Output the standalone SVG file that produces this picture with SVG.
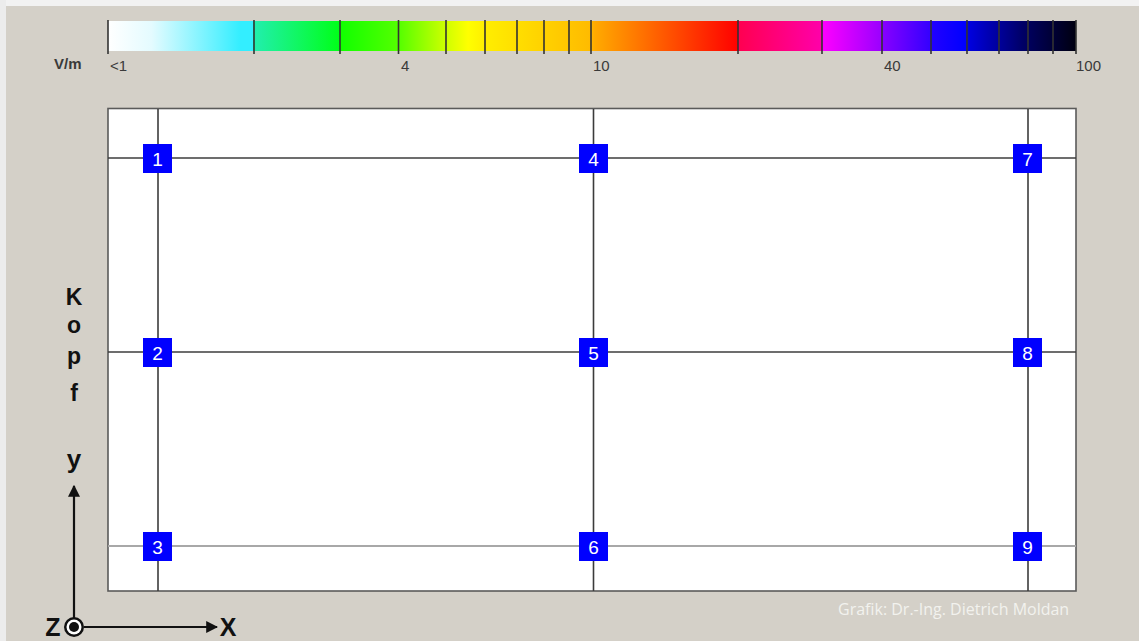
<svg xmlns="http://www.w3.org/2000/svg" width="1139" height="641" viewBox="0 0 1139 641">
<defs>
<style>
.lbl{font-family:"Liberation Sans",Arial,sans-serif;font-size:15px;fill:#3a3a3a}
.tick{stroke:#333;stroke-width:1.6}
.grid{stroke:#3c3c3c;stroke-width:1.6;fill:none}
.node rect{fill:#0000ff}
.node text{font-family:"Liberation Sans",Arial,sans-serif;font-size:19px;fill:#ffffff;text-anchor:middle}
.big{font-family:"Liberation Sans",Arial,sans-serif;font-weight:bold;fill:#111;text-anchor:middle}
</style>
<linearGradient id="cb" gradientUnits="userSpaceOnUse" x1="108" y1="0" x2="1076" y2="0">
<stop offset="0" stop-color="#ffffff"/>
<stop offset="0.045" stop-color="#e4fbff"/>
<stop offset="0.137" stop-color="#33eeff"/>
<stop offset="0.1498" stop-color="#33eeff"/>
<stop offset="0.1498" stop-color="#22eeb0"/>
<stop offset="0.2397" stop-color="#00ff18"/>
<stop offset="0.2397" stop-color="#10ff00"/>
<stop offset="0.3006" stop-color="#55ff00"/>
<stop offset="0.3481" stop-color="#ccff00"/>
<stop offset="0.372" stop-color="#ffff00"/>
<stop offset="0.3895" stop-color="#ffee00"/>
<stop offset="0.498" stop-color="#ffbb00"/>
<stop offset="0.503" stop-color="#ffaa00"/>
<stop offset="0.63" stop-color="#ff1800"/>
<stop offset="0.651" stop-color="#ff0000"/>
<stop offset="0.651" stop-color="#ff0050"/>
<stop offset="0.7376" stop-color="#ff00aa"/>
<stop offset="0.7376" stop-color="#ff00ff"/>
<stop offset="0.7996" stop-color="#9900ff"/>
<stop offset="0.7996" stop-color="#8800ff"/>
<stop offset="0.850" stop-color="#3300ff"/>
<stop offset="0.850" stop-color="#2200ff"/>
<stop offset="0.886" stop-color="#0000ff"/>
<stop offset="0.886" stop-color="#0000e6"/>
<stop offset="0.945" stop-color="#000066"/>
<stop offset="1" stop-color="#000010"/>
</linearGradient>
<marker id="arr" viewBox="0 0 10 10" refX="9" refY="5" markerWidth="12" markerHeight="12" markerUnits="userSpaceOnUse" orient="auto">
<path d="M0,0 L10,5 L0,10 z" fill="#111"/>
</marker>
</defs>
<rect x="0" y="0" width="1139" height="641" fill="#d4d0c8"/>
<rect x="0" y="0" width="1139" height="6" fill="#f2f2f2"/>
<rect x="0" y="0" width="6" height="641" fill="#ececec"/>

<g id="colorbar">
<rect x="108" y="21" width="968" height="30" fill="url(#cb)"/>
<g class="tick">
<line x1="108" y1="20" x2="108" y2="54"/>
<line x1="254" y1="20" x2="254" y2="54"/>
<line x1="340" y1="20" x2="340" y2="54"/>
<line x1="398.5" y1="20" x2="398.5" y2="54"/>
<line x1="446" y1="20" x2="446" y2="54"/>
<line x1="485" y1="20" x2="485" y2="54"/>
<line x1="517" y1="20" x2="517" y2="54"/>
<line x1="544" y1="20" x2="544" y2="54"/>
<line x1="569" y1="20" x2="569" y2="54"/>
<line x1="591" y1="20" x2="591" y2="54"/>
<line x1="738" y1="20" x2="738" y2="54"/>
<line x1="822" y1="20" x2="822" y2="54"/>
<line x1="882" y1="20" x2="882" y2="54"/>
<line x1="931" y1="20" x2="931" y2="54"/>
<line x1="967" y1="20" x2="967" y2="54"/>
<line x1="999" y1="20" x2="999" y2="54"/>
<line x1="1028" y1="20" x2="1028" y2="54"/>
<line x1="1053" y1="20" x2="1053" y2="54"/>
<line x1="1076" y1="20" x2="1076" y2="54"/>
</g>
<text class="lbl" x="54" y="69" font-size="14" font-weight="bold" fill="#555">V/m</text>
<text class="lbl" x="110" y="71">&lt;1</text>
<text class="lbl" x="401" y="71">4</text>
<text class="lbl" x="593" y="71">10</text>
<text class="lbl" x="884" y="71">40</text>
<text class="lbl" x="1076" y="71">100</text>
</g>

<rect id="frame" x="108" y="108.5" width="968" height="482.5" fill="#ffffff" stroke="#5a5a5a" stroke-width="1.6"/>

<g id="connectors">
<line class="grid" x1="158" y1="109" x2="158" y2="591"/>
<line class="grid" x1="593.5" y1="109" x2="593.5" y2="591"/>
<line class="grid" x1="1028" y1="109" x2="1028" y2="591"/>
<line class="grid" x1="108" y1="158" x2="1076" y2="158"/>
<line class="grid" x1="108" y1="352" x2="1076" y2="352"/>
<line x1="108" y1="546" x2="1076" y2="546" stroke="#a8a8a8" stroke-width="2"/>
</g>

<g id="node1" class="node"><rect x="143" y="144" width="29" height="29"/><text x="157.5" y="165.5">1</text></g>
<g id="node2" class="node"><rect x="143" y="338" width="29" height="29"/><text x="157.5" y="359.5">2</text></g>
<g id="node3" class="node"><rect x="143" y="532" width="29" height="29"/><text x="157.5" y="553.5">3</text></g>
<g id="node4" class="node"><rect x="579" y="144" width="29" height="29"/><text x="593.5" y="165.5">4</text></g>
<g id="node5" class="node"><rect x="579" y="338" width="29" height="29"/><text x="593.5" y="359.5">5</text></g>
<g id="node6" class="node"><rect x="579" y="532" width="29" height="29"/><text x="593.5" y="553.5">6</text></g>
<g id="node7" class="node"><rect x="1013" y="144" width="29" height="29"/><text x="1027.5" y="165.5">7</text></g>
<g id="node8" class="node"><rect x="1013" y="338" width="29" height="29"/><text x="1027.5" y="359.5">8</text></g>
<g id="node9" class="node"><rect x="1013" y="532" width="29" height="29"/><text x="1027.5" y="553.5">9</text></g>

<g id="kopf">
<text class="big" x="74" y="305" font-size="23">K</text>
<text class="big" x="74" y="333" font-size="23">o</text>
<text class="big" x="74" y="364" font-size="23">p</text>
<text class="big" x="74" y="401" font-size="23">f</text>
</g>

<g id="axes">
<line x1="74" y1="618" x2="74" y2="486" stroke="#111" stroke-width="2.2" marker-end="url(#arr)"/>
<line x1="84" y1="627" x2="217" y2="627" stroke="#111" stroke-width="2.2" marker-end="url(#arr)"/>
<circle cx="74" cy="627" r="10" fill="#111"/>
<circle cx="74" cy="627" r="7.5" fill="#ffffff"/>
<circle cx="74" cy="627" r="5" fill="#111"/>
<text class="big" x="74" y="468" font-size="26" font-weight="normal">y</text>
<text class="big" x="53" y="636" font-size="25">Z</text>
<text class="big" x="228" y="636" font-size="25" font-weight="normal">X</text>
</g>

<text x="838" y="615" font-family="'Open Sans','Liberation Sans',Arial,sans-serif" font-size="16" fill="#f2f2ee">Grafik: Dr.-Ing. Dietrich Moldan</text>
</svg>
